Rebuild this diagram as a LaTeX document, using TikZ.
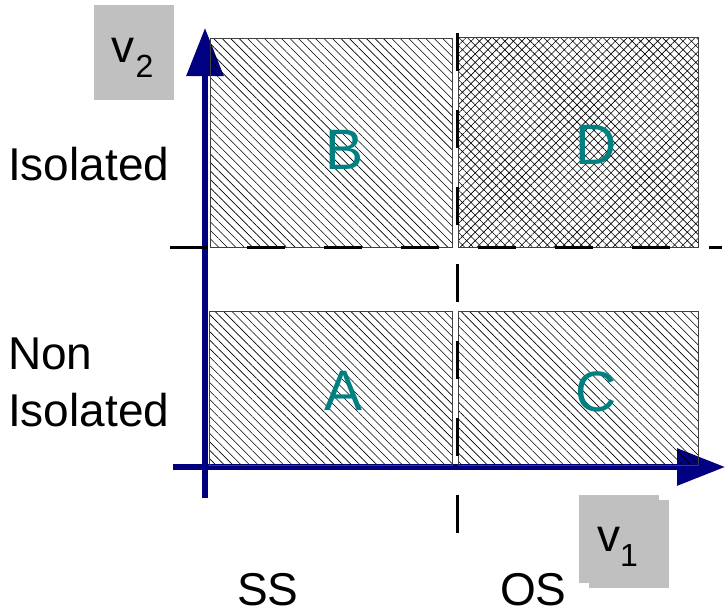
\documentclass[tikz,border=0pt]{standalone}
\usepackage{fontspec}
\setmainfont{Liberation Sans}
\usetikzlibrary{patterns.meta,arrows.meta}
\definecolor{axisblue}{HTML}{000080}
\definecolor{letterteal}{HTML}{008080}
\definecolor{tagfill}{HTML}{C0C0C0}
\newcommand{\subtwo}[1]{\hspace{1.5pt}\raisebox{-15.5pt}{\fontsize{32}{32}\selectfont #1}}
\begin{document}
\begin{tikzpicture}[x=1pt,y=-1pt,
  axis/.style={draw=axisblue,line width=6pt,-{Triangle[length=48pt,width=36pt]}},
  region/.style={draw=black!75,line width=0.8pt},
  single/.style={region,pattern={Lines[angle=-45,distance=6pt,line width=0.6pt]}},
  cross/.style={region,pattern={Hatch[angle=45,distance=6pt,line width=0.6pt]}},
  divider/.style={draw=black,line width=3pt,dash pattern=on 38pt off 39pt},
  tag/.style={fill=tagfill,inner sep=0pt,minimum width=80pt,minimum height=#1},
  label/.style={inner sep=0pt,anchor=base west,font=\fontsize{46}{46}\selectfont},
  letter/.style={inner sep=0pt,text=letterteal,font=\fontsize{57}{57}\selectfont}]
  \useasboundingbox (0,0) rectangle (725,614);

  % axes
  \coordinate (yfoot) at (205,498);
  \coordinate (ytip) at (205,28);
  \coordinate (xfoot) at (173,467);
  \coordinate (xtip) at (725,467);
  \draw[axis] (yfoot) -- (ytip);
  \draw[axis] (xfoot) -- (xtip);

  % the four regions
  \draw[single] (210,38) rectangle (452,247);
  \draw[cross]  (458,37) rectangle (698,247);
  \draw[single] (209,311) rectangle (452,465);
  \draw[single] (458,311) rectangle (698,465);

  % dashed boundaries
  \coordinate (hleft) at (170,247);
  \coordinate (hright) at (722,247);
  \coordinate (vtop) at (457,33);
  \coordinate (vbottom) at (457,533);
  \draw[divider] (hleft) -- (hright);
  \draw[divider] (vtop) -- (vbottom);

  % region letters
  \node[letter] (B) at (345,150) {B};
  \node[letter] (D) at (596,145) {D};
  \node[letter] (A) at (344,391) {A};
  \node[letter] (C) at (596,392) {C};

  % axis tags
  \node[tag=95pt] (v2tag) at (133.5,52.5) {};
  \node[tag=88pt] (v1tagback) at (629,543.5) {};
  \node[tag=88pt] (v1tag) at (619,539) {};
  \node[label] (v2) at (111,62) {v\subtwo{2}};
  \node[label] (v1) at (597,551) {v\raisebox{-15.5pt}{\fontsize{32}{32}\selectfont 1}};

  % row and column captions
  \node[label] (iso) at (8,180) {Isolated};
  \node[label] (non) at (8,369) {Non};
  \node[label] (noniso) at (8,426) {Isolated};
  \node[label] (ss) at (237,605) {SS};
  \node[label] (os) at (500,605) {OS};
\end{tikzpicture}
\end{document}
